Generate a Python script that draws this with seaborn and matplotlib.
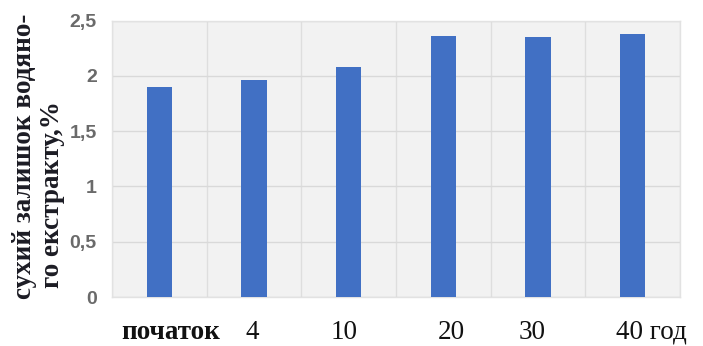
import matplotlib
matplotlib.use("Agg")
import matplotlib.pyplot as plt
import matplotlib.transforms as mtransforms
import seaborn as sns
import pandas as pd
import numpy as np

# Data
periods = ["початок", "4", "10", "20", "30", "40 год"]
dry_residue = [1.90, 1.96, 2.08, 2.36, 2.35, 2.38]
y_ticks = [0, 0.5, 1, 1.5, 2, 2.5]
y_tick_labels = ["0", "0,5", "1", "1,5", "2", "2,5"]
y_label_lines = ["сухий залишок водяно-", "го екстракту,%"]

df = pd.DataFrame({"period": periods, "value": dry_residue})

sns.set_theme(style="white")
plt.rcParams["font.family"] = ["Liberation Sans", "DejaVu Sans"]

fig = plt.figure(figsize=(7.03, 3.46), dpi=100)
ax = fig.add_axes([112 / 703, 1 - 297 / 346, 568 / 703, (297 - 20.5) / 346])

sns.barplot(data=df, x="period", y="value", color="#4170c4", saturation=1,
            width=0.265, linewidth=0, ax=ax, zorder=3)

ax.set_facecolor("#f2f2f2")
ax.set_xlim(-0.5, len(periods) - 0.5)
ax.set_ylim(0, 2.5)

# gridlines: horizontal at y ticks, vertical between categories
ax.set_yticks(y_ticks)
ax.set_yticklabels(y_tick_labels, color="#6a6a6a", fontsize=14, fontweight="bold",
                   family=["Liberation Sans Narrow", "Liberation Sans", "DejaVu Sans"])
ax.set_xticks(np.arange(len(periods)))
ax.set_xticks(np.arange(len(periods) + 1) - 0.5, minor=True)
ax.grid(axis="y", which="major", color="#d9d9d9", linewidth=1.0, zorder=0)
ax.grid(axis="x", which="minor", color="#dedede", linewidth=1.0, zorder=0)
ax.tick_params(axis="both", which="both", length=0)
ax.tick_params(axis="y", pad=11)
ax.tick_params(axis="x", pad=16.5)

ax.set_xticklabels(periods, fontsize=19.5, color="#111111",
                   family=["Liberation Serif", "DejaVu Serif"])
label_shift_px = [11, -2, -5, 8, -6, 19]
for lab, dx in zip(ax.get_xticklabels(), label_shift_px):
    if lab.get_text() == "початок":
        lab.set_fontweight("bold")
    lab.set_transform(lab.get_transform() +
                      mtransforms.ScaledTranslation(dx / 100, 0, fig.dpi_scale_trans))

for side in ["left", "right", "top", "bottom"]:
    ax.spines[side].set_color("#e2e2e2")
    ax.spines[side].set_linewidth(1.0)

ax.set_xlabel("")
ax.set_ylabel("")

# two-line axis title
fig.text(25 / 703, 1 - 156 / 346, y_label_lines[0], rotation=90, ha="center",
         va="center", fontsize=19.5, fontweight="bold", color="#1c1c24",
         family=["Liberation Serif", "DejaVu Serif"])
fig.text(53 / 703, 1 - 195 / 346, y_label_lines[1], rotation=90, ha="center",
         va="center", fontsize=19.5, fontweight="bold", color="#1c1c24",
         family=["Liberation Serif", "DejaVu Serif"])

fig.savefig("out.png", dpi=100)
